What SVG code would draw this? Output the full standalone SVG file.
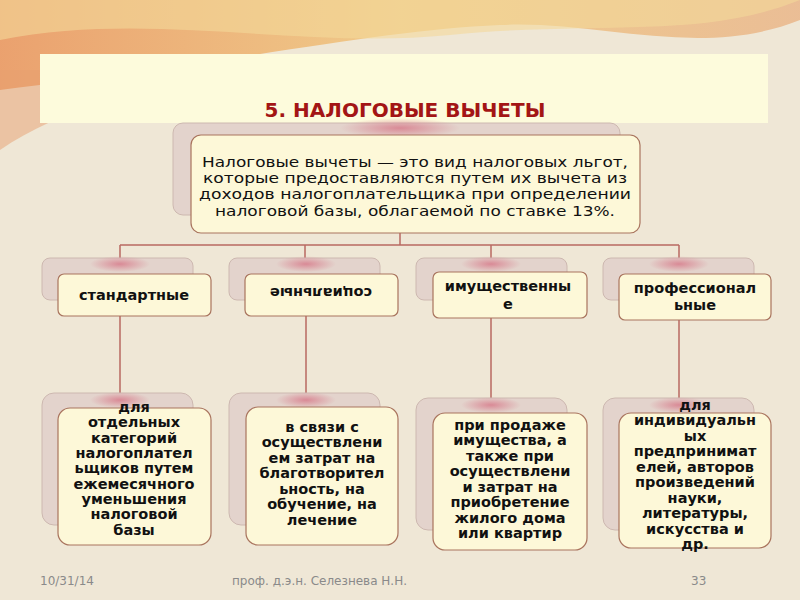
<svg xmlns="http://www.w3.org/2000/svg" width="800" height="600" viewBox="0 0 800 600">
<defs>
<radialGradient id="pink" cx="0.5" cy="0.5" r="0.5"><stop offset="0" stop-color="#d98a96"/><stop offset="1" stop-color="#d98a96" stop-opacity="0"/></radialGradient>
<linearGradient id="wave" x1="0" y1="0" x2="1" y2="0"><stop offset="0" stop-color="#e98a4c"/><stop offset="0.5" stop-color="#f0c070"/><stop offset="1" stop-color="#e9b080"/></linearGradient>
</defs>
<style>
.sh{fill:#e3d3cc;stroke:#cdb8b0;stroke-width:1}
.bx{fill:#fdf8d8;stroke:#a9745e;stroke-width:1.2}
.t{font-family:"DejaVu Sans",sans-serif;font-size:14.5px;font-weight:bold;fill:#111;text-anchor:middle}
.r{font-family:"DejaVu Sans",sans-serif;font-size:13.5px;fill:#111;text-anchor:middle}
.c{stroke:#b96a62;stroke-width:1.5;fill:none}
.f{font-family:"DejaVu Sans",sans-serif;font-size:12px;fill:#8a8a8a}
</style>
<rect width="800" height="600" fill="#efe7d6"/>
<path d="M0 0 H800 V20 C700 60 600 20 500 25 C380 30 250 60 0 90 Z" fill="url(#wave)" opacity="0.75"/>
<path d="M0 40 C150 10 300 50 450 35 C600 20 700 40 800 0 V0 H0 Z" fill="#f3d89a" opacity="0.6"/>
<path d="M0 150 C60 110 150 80 260 70 L0 70 Z" fill="#e8a070" opacity="0.5"/>
<rect x="40" y="54" width="728" height="69" fill="#fdfbdc"/>
<text x="405" y="117" font-family="'DejaVu Sans',sans-serif" font-size="20" font-weight="bold" fill="#a31515" text-anchor="middle">5. НАЛОГОВЫЕ ВЫЧЕТЫ</text>
<g id="connectors">
<path class="c" d="M400 233 V245 M120 245 H679 M120 245 V274 M305 245 V274 M491 245 V272 M679 245 V274 M120 316 V395 M306 316 V395 M491 318 V398 M679 320 V398"/>
</g>
<g id="root">
<rect class="sh" x="173" y="123" width="447" height="92" rx="10"/>
<ellipse cx="400" cy="128" rx="60" ry="10" fill="url(#pink)"/>
<rect class="bx" x="191" y="135" width="449" height="98" rx="10"/>
<text class="r"><tspan x="415" y="167" textLength="426" lengthAdjust="spacingAndGlyphs">Налоговые вычеты — это вид налоговых льгот,</tspan><tspan x="415" y="183" textLength="424" lengthAdjust="spacingAndGlyphs">которые предоставляются путем их вычета из</tspan><tspan x="415" y="199" textLength="432" lengthAdjust="spacingAndGlyphs">доходов налогоплательщика при определении</tspan><tspan x="415" y="216" textLength="400" lengthAdjust="spacingAndGlyphs">налоговой базы, облагаемой по ставке 13%.</tspan></text>
</g>
<g id="n1">
<rect class="sh" x="42" y="258" width="151" height="42" rx="8"/><ellipse cx="120" cy="264" rx="30" ry="8" fill="url(#pink)"/>
<rect class="bx" x="58" y="274" width="153" height="42" rx="6"/>
<text class="t" x="134" y="300">стандартные</text>
</g>
<g id="n2">
<rect class="sh" x="229" y="258" width="151" height="42" rx="8"/><ellipse cx="306" cy="264" rx="30" ry="8" fill="url(#pink)"/>
<rect class="bx" x="245" y="274" width="153" height="42" rx="6"/>
<text class="t" transform="rotate(180 321 293)" x="321" y="298">социальные</text>
</g>
<g id="n3">
<rect class="sh" x="416" y="258" width="151" height="42" rx="8"/><ellipse cx="491" cy="264" rx="30" ry="8" fill="url(#pink)"/>
<rect class="bx" x="433" y="272" width="154" height="46" rx="6"/>
<text class="t"><tspan x="508" y="291">имущественны</tspan><tspan x="508" y="309">е</tspan></text>
</g>
<g id="n4">
<rect class="sh" x="603" y="258" width="151" height="42" rx="8"/><ellipse cx="679" cy="264" rx="30" ry="8" fill="url(#pink)"/>
<rect class="bx" x="619" y="274" width="152" height="46" rx="6"/>
<text class="t"><tspan x="695" y="293">профессионал</tspan><tspan x="695" y="310">ьные</tspan></text>
</g>
<g id="d1">
<rect class="sh" x="42" y="393" width="151" height="132" rx="12"/><ellipse cx="120" cy="400" rx="30" ry="8" fill="url(#pink)"/>
<rect class="bx" x="58" y="408" width="153" height="137" rx="12"/>
<text class="t"><tspan x="134" y="412">для</tspan><tspan x="134" y="427">отдельных</tspan><tspan x="134" y="443">категорий</tspan><tspan x="134" y="458">налогоплател</tspan><tspan x="134" y="473">ьщиков путем</tspan><tspan x="134" y="489">ежемесячного</tspan><tspan x="134" y="504">уменьшения</tspan><tspan x="134" y="519">налоговой</tspan><tspan x="134" y="535">базы</tspan></text>
</g>
<g id="d2">
<rect class="sh" x="229" y="393" width="151" height="132" rx="12"/><ellipse cx="306" cy="400" rx="30" ry="8" fill="url(#pink)"/>
<rect class="bx" x="246" y="407" width="152" height="138" rx="12"/>
<text class="t"><tspan x="322" y="432">в связи с</tspan><tspan x="322" y="447">осуществлени</tspan><tspan x="322" y="463">ем затрат на</tspan><tspan x="322" y="478">благотворител</tspan><tspan x="322" y="494">ьность, на</tspan><tspan x="322" y="509">обучение, на</tspan><tspan x="322" y="525">лечение</tspan></text>
</g>
<g id="d3">
<rect class="sh" x="416" y="398" width="151" height="132" rx="12"/><ellipse cx="491" cy="405" rx="30" ry="8" fill="url(#pink)"/>
<rect class="bx" x="433" y="413" width="154" height="137" rx="12"/>
<text class="t"><tspan x="510" y="430">при продаже</tspan><tspan x="510" y="445">имущества, а</tspan><tspan x="510" y="461">также при</tspan><tspan x="510" y="476">осуществлени</tspan><tspan x="510" y="492">и затрат на</tspan><tspan x="510" y="507">приобретение</tspan><tspan x="510" y="523">жилого дома</tspan><tspan x="510" y="538">или квартир</tspan></text>
</g>
<g id="d4">
<rect class="sh" x="603" y="398" width="151" height="132" rx="12"/><ellipse cx="679" cy="405" rx="30" ry="8" fill="url(#pink)"/>
<rect class="bx" x="619" y="413" width="152" height="135" rx="12"/>
<text class="t"><tspan x="695" y="410">для</tspan><tspan x="695" y="425">индивидуальн</tspan><tspan x="695" y="441">ых</tspan><tspan x="695" y="456">предпринимат</tspan><tspan x="695" y="472">елей, авторов</tspan><tspan x="695" y="487">произведений</tspan><tspan x="695" y="503">науки,</tspan><tspan x="695" y="518">литературы,</tspan><tspan x="695" y="534">искусства и</tspan><tspan x="695" y="549">др.</tspan></text>
</g>
<text class="f" x="40" y="585">10/31/14</text>
<text class="f" x="232" y="585">проф. д.э.н. Селезнева Н.Н.</text>
<text class="f" x="691" y="585">33</text>
</svg>
